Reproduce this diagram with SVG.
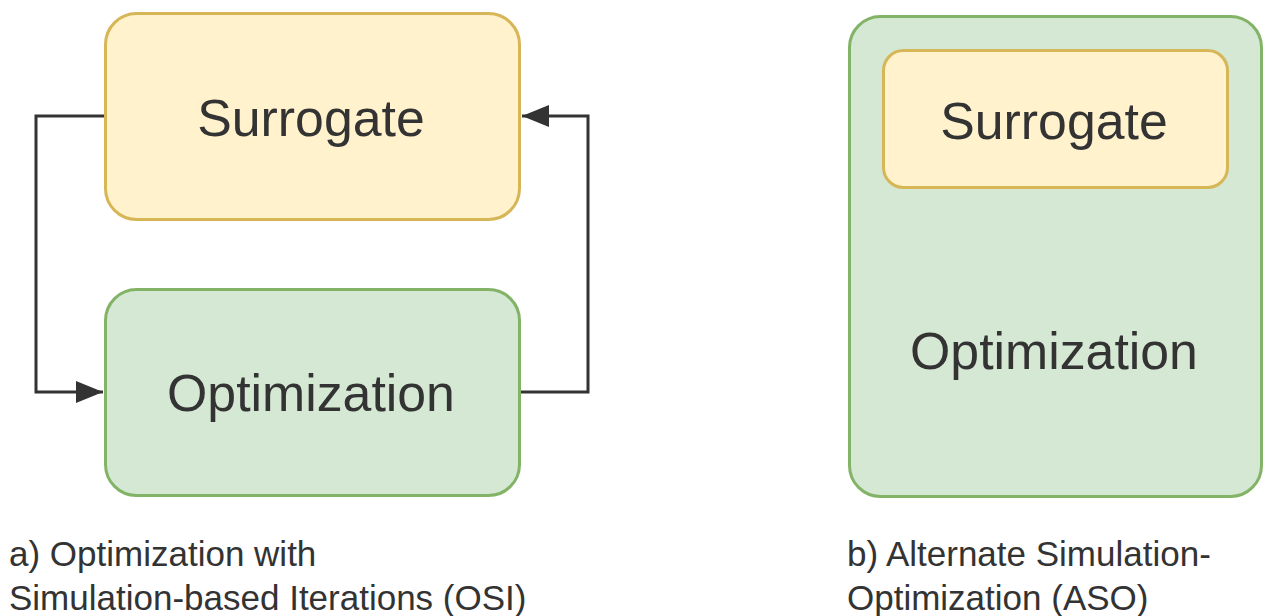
<svg xmlns="http://www.w3.org/2000/svg" width="1263" height="616" viewBox="0 0 1263 616">
<defs>
<style>
.y{fill:#fff2cc;stroke:#d6b656;stroke-width:3}
.g{fill:#d5e8d4;stroke:#82b366;stroke-width:3}
.t{font-family:"Liberation Sans",Arial,sans-serif;fill:#333333}
.big{font-size:51.8px;text-anchor:middle}
.cap{font-size:35px}
.c{fill:none;stroke:#333333;stroke-width:3}
</style>
<marker id="ah" markerUnits="userSpaceOnUse" markerWidth="28" markerHeight="22" refX="27" refY="11" orient="auto">
<path d="M0,0 L27,11 L0,22 Z" fill="#333333"/>
</marker>
</defs>
<rect width="1263" height="616" fill="#ffffff"/>
<g id="connectors">
<polyline class="c" points="105,116 36,116 36,392 103,392" marker-end="url(#ah)"/>
<polyline class="c" points="520,392 588,392 588,116 522,116" marker-end="url(#ah)"/>
</g>
<g id="surrogate-a">
<rect class="y" x="105.5" y="13.5" width="414" height="206" rx="31"/>
<text class="t big" x="311" y="136">Surrogate</text>
</g>
<g id="optimization-a">
<rect class="g" x="105.5" y="289.5" width="414" height="206" rx="31"/>
<text class="t big" x="311" y="411">Optimization</text>
</g>
<g id="optimization-b">
<rect class="g" x="849.5" y="16.5" width="412" height="480" rx="31"/>
<text class="t big" x="1054" y="369">Optimization</text>
</g>
<g id="surrogate-b">
<rect class="y" x="883.5" y="50.5" width="344" height="137" rx="20"/>
<text class="t big" x="1054" y="139">Surrogate</text>
</g>
<g id="caption-a">
<text class="t cap" x="9" y="566">a) Optimization with</text>
<text class="t cap" x="9" y="610">Simulation-based Iterations (OSI)</text>
</g>
<g id="caption-b">
<text class="t cap" x="847" y="566">b) Alternate Simulation-</text>
<text class="t cap" x="847" y="610">Optimization (ASO)</text>
</g>
</svg>
